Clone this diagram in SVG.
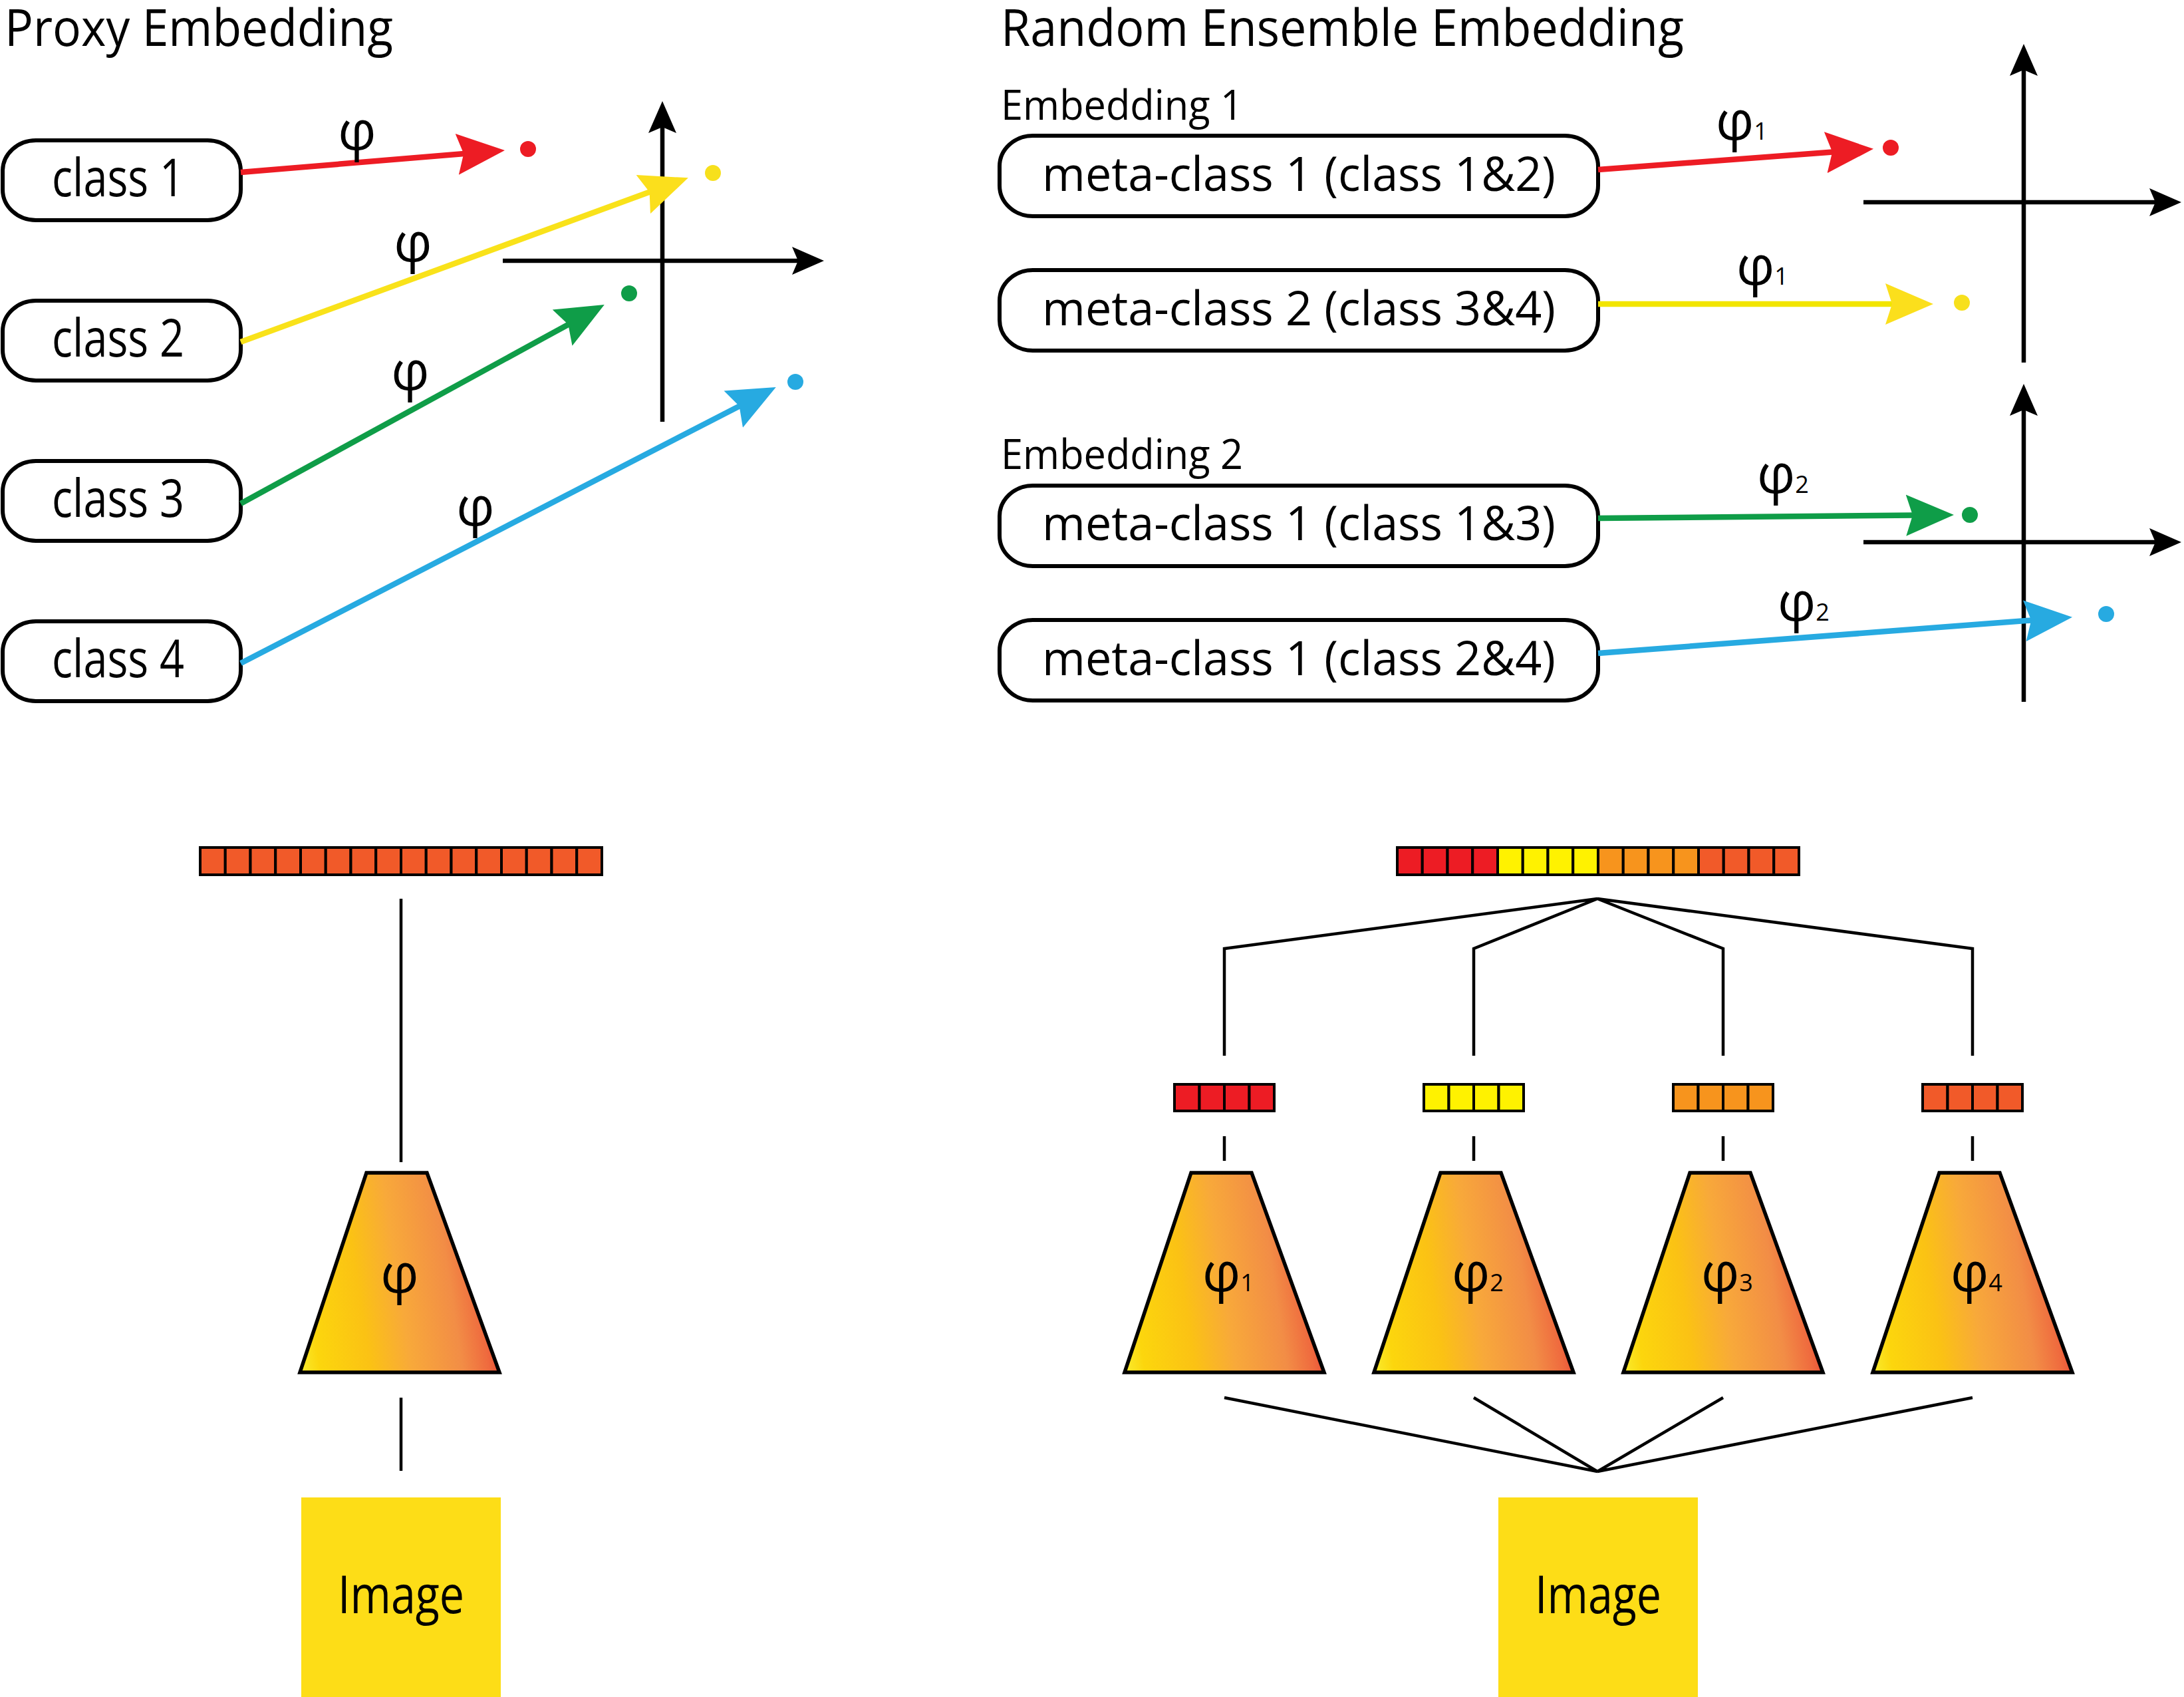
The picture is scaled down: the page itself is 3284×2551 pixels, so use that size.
<svg xmlns="http://www.w3.org/2000/svg" width="3284" height="2551" viewBox="0 0 3284 2551">
<style>
text{font-family:"Open Sans","Noto Sans","Liberation Sans",sans-serif;fill:#000}
.title{font-size:76px}
.sub{font-size:63px}
.cls{font-size:78px}
.meta{font-size:72px}
.phi{font-size:80px}
.idx{font-size:36px}
.box{fill:#fff;stroke:#000;stroke-width:6}
.axis{stroke:#000;stroke-width:6.5;fill:none}
.arr{stroke-width:8.5;fill:none}
.tree{stroke:#000;stroke-width:4.5;fill:none}
.cell{stroke:#000;stroke-width:4}
.trap{fill:url(#tg);stroke:#000;stroke-width:5.5;stroke-linejoin:miter}
.img{fill:#FDDD17}
</style>
<defs>
<linearGradient id="tg" x1="0" y1="1" x2="1" y2="0.85">
<stop offset="0" stop-color="#F9EC2E"/>
<stop offset="0.1" stop-color="#FCD60D"/>
<stop offset="0.35" stop-color="#FBC214"/>
<stop offset="0.55" stop-color="#F8A93A"/>
<stop offset="0.8" stop-color="#F28D46"/>
<stop offset="0.93" stop-color="#EF6A3E"/>
<stop offset="1" stop-color="#EC4B36"/>
</linearGradient>
<marker id="mr" markerUnits="userSpaceOnUse" orient="auto" markerWidth="80" markerHeight="70" refX="14" refY="35" viewBox="0 0 80 70"><path d="M72,35 L0,4 L10,35 L0,66 Z" fill="#ED1C24"/></marker>
<marker id="my" markerUnits="userSpaceOnUse" orient="auto" markerWidth="80" markerHeight="70" refX="14" refY="35" viewBox="0 0 80 70"><path d="M72,35 L0,4 L10,35 L0,66 Z" fill="#FBDF1C"/></marker>
<marker id="mg" markerUnits="userSpaceOnUse" orient="auto" markerWidth="80" markerHeight="70" refX="14" refY="35" viewBox="0 0 80 70"><path d="M72,35 L0,4 L10,35 L0,66 Z" fill="#0F9D48"/></marker>
<marker id="mb" markerUnits="userSpaceOnUse" orient="auto" markerWidth="80" markerHeight="70" refX="14" refY="35" viewBox="0 0 80 70"><path d="M72,35 L0,4 L10,35 L0,66 Z" fill="#27AAE1"/></marker>
<marker id="mk" markerUnits="userSpaceOnUse" orient="auto" markerWidth="60" markerHeight="50" refX="12" refY="25" viewBox="0 0 60 50"><path d="M48,25 L0,4 L9,25 L0,46 Z" fill="#000"/></marker>
</defs>
<rect width="3284" height="2551" fill="#fff"/>

<g id="titles">
<text class="title" x="7" y="69" textLength="584" lengthAdjust="spacingAndGlyphs">Proxy Embedding</text>
<text class="title" x="1505" y="69" textLength="1027" lengthAdjust="spacingAndGlyphs">Random Ensemble Embedding</text>
<text class="sub" x="1505" y="180" textLength="364" lengthAdjust="spacingAndGlyphs">Embedding 1</text>
<text class="sub" x="1505" y="705" textLength="364" lengthAdjust="spacingAndGlyphs">Embedding 2</text>
</g>

<g id="axes">
<line class="axis" x1="996" y1="634" x2="996" y2="188" marker-end="url(#mk)"/>
<line class="axis" x1="756" y1="392" x2="1203" y2="392" marker-end="url(#mk)"/>
<line class="axis" x1="3043" y1="545" x2="3043" y2="102" marker-end="url(#mk)"/>
<line class="axis" x1="2802" y1="304" x2="3244" y2="304" marker-end="url(#mk)"/>
<line class="axis" x1="3043" y1="1055" x2="3043" y2="613" marker-end="url(#mk)"/>
<line class="axis" x1="2802" y1="815" x2="3244" y2="815" marker-end="url(#mk)"/>
</g>

<g id="class1"><rect class="box" x="4" y="211" width="358" height="120" rx="50" ry="46"/><text class="cls" x="78" y="295" textLength="199" lengthAdjust="spacingAndGlyphs">class 1</text></g>
<g id="class2"><rect class="box" x="4" y="452" width="358" height="120" rx="50" ry="46"/><text class="cls" x="78" y="536" textLength="199" lengthAdjust="spacingAndGlyphs">class 2</text></g>
<g id="class3"><rect class="box" x="4" y="693" width="358" height="120" rx="50" ry="46"/><text class="cls" x="78" y="777" textLength="199" lengthAdjust="spacingAndGlyphs">class 3</text></g>
<g id="class4"><rect class="box" x="4" y="934" width="358" height="120" rx="50" ry="46"/><text class="cls" x="78" y="1018" textLength="199" lengthAdjust="spacingAndGlyphs">class 4</text></g>

<g id="meta1"><rect class="box" x="1503" y="204" width="900" height="121" rx="50" ry="46"/><text class="meta" x="1567" y="287" textLength="772" lengthAdjust="spacingAndGlyphs">meta-class 1 (class 1&amp;2)</text></g>
<g id="meta2"><rect class="box" x="1503" y="406" width="900" height="121" rx="50" ry="46"/><text class="meta" x="1567" y="489" textLength="772" lengthAdjust="spacingAndGlyphs">meta-class 2 (class 3&amp;4)</text></g>
<g id="meta3"><rect class="box" x="1503" y="730" width="900" height="121" rx="50" ry="46"/><text class="meta" x="1567" y="812" textLength="772" lengthAdjust="spacingAndGlyphs">meta-class 1 (class 1&amp;3)</text></g>
<g id="meta4"><rect class="box" x="1503" y="932" width="900" height="121" rx="50" ry="46"/><text class="meta" x="1567" y="1015" textLength="772" lengthAdjust="spacingAndGlyphs">meta-class 1 (class 2&amp;4)</text></g>

<g id="points">
<circle cx="794" cy="224" r="12" fill="#ED1C24"/>
<circle cx="1072" cy="260" r="12" fill="#F7E01C"/>
<circle cx="946" cy="441" r="12" fill="#0F9D48"/>
<circle cx="1196" cy="574" r="12" fill="#27AAE1"/>
<circle cx="2843" cy="222" r="12" fill="#ED1C24"/>
<circle cx="2950" cy="455" r="12" fill="#F7E01C"/>
<circle cx="2962" cy="774" r="12" fill="#0F9D48"/>
<circle cx="3167" cy="923" r="12" fill="#27AAE1"/>
</g>

<g id="connectors">
<line class="arr" stroke="#ED1C24" x1="362" y1="259" x2="701.2" y2="230.7" marker-end="url(#mr)"/>
<line class="arr" stroke="#F9E21A" x1="362" y1="514" x2="980.4" y2="287.3" marker-end="url(#my)"/>
<line class="arr" stroke="#0F9D48" x1="362" y1="757" x2="857.9" y2="485.9" marker-end="url(#mg)"/>
<line class="arr" stroke="#27AAE1" x1="362" y1="997" x2="1115.2" y2="608.7" marker-end="url(#mb)"/>
<line class="arr" stroke="#ED1C24" x1="2403" y1="255" x2="2759.2" y2="228.2" marker-end="url(#mr)"/>
<line class="arr" stroke="#F2E500" x1="2403" y1="457" x2="2849" y2="457" marker-end="url(#my)"/>
<line class="arr" stroke="#0F9D48" x1="2403" y1="779" x2="2880" y2="774.5" marker-end="url(#mg)"/>
<line class="arr" stroke="#27AAE1" x1="2403" y1="982" x2="3058.2" y2="932.2" marker-end="url(#mb)"/>
<line class="tree" x1="603" y1="1351" x2="603" y2="1747"/>
<line class="tree" x1="603" y1="2101" x2="603" y2="2211"/>
<polyline class="tree" points="1841,1587 1841,1426 2402,1351 2216,1426 2216,1587"/>
<polyline class="tree" points="2591,1587 2591,1426 2402,1351 2966,1426 2966,1587"/>
<line class="tree" x1="1841" y1="1708" x2="1841" y2="1745"/>
<line class="tree" x1="2216" y1="1708" x2="2216" y2="1745"/>
<line class="tree" x1="2591" y1="1708" x2="2591" y2="1745"/>
<line class="tree" x1="2966" y1="1708" x2="2966" y2="1745"/>
<polyline class="tree" points="1841,2101 2402,2212 2216,2101"/>
<polyline class="tree" points="2591,2101 2402,2212 2966,2101"/>
</g>

<g id="phi-labels">
<text class="phi" x="537" y="225" text-anchor="middle">φ</text>
<text class="phi" x="621" y="393" text-anchor="middle">φ</text>
<text class="phi" x="617" y="586" text-anchor="middle">φ</text>
<text class="phi" x="715" y="790" text-anchor="middle">φ</text>
<text class="phi" x="2580" y="210">φ<tspan class="idx">1</tspan></text>
<text class="phi" x="2611" y="428">φ<tspan class="idx">1</tspan></text>
<text class="phi" x="2642" y="741">φ<tspan class="idx">2</tspan></text>
<text class="phi" x="2673" y="933">φ<tspan class="idx">2</tspan></text>
</g>

<g id="vector-proxy">
<rect class="cell" fill="#F15A29" x="301" y="1274" width="37.75" height="41"/>
<rect class="cell" fill="#F15A29" x="338.75" y="1274" width="37.75" height="41"/>
<rect class="cell" fill="#F15A29" x="376.5" y="1274" width="37.75" height="41"/>
<rect class="cell" fill="#F15A29" x="414.25" y="1274" width="37.75" height="41"/>
<rect class="cell" fill="#F15A29" x="452" y="1274" width="37.75" height="41"/>
<rect class="cell" fill="#F15A29" x="489.75" y="1274" width="37.75" height="41"/>
<rect class="cell" fill="#F15A29" x="527.5" y="1274" width="37.75" height="41"/>
<rect class="cell" fill="#F15A29" x="565.25" y="1274" width="37.75" height="41"/>
<rect class="cell" fill="#F15A29" x="603" y="1274" width="37.75" height="41"/>
<rect class="cell" fill="#F15A29" x="640.75" y="1274" width="37.75" height="41"/>
<rect class="cell" fill="#F15A29" x="678.5" y="1274" width="37.75" height="41"/>
<rect class="cell" fill="#F15A29" x="716.25" y="1274" width="37.75" height="41"/>
<rect class="cell" fill="#F15A29" x="754" y="1274" width="37.75" height="41"/>
<rect class="cell" fill="#F15A29" x="791.75" y="1274" width="37.75" height="41"/>
<rect class="cell" fill="#F15A29" x="829.5" y="1274" width="37.75" height="41"/>
<rect class="cell" fill="#F15A29" x="867.25" y="1274" width="37.75" height="41"/>
</g>

<g id="vector-ensemble">
<rect class="cell" fill="#ED1C24" x="2101" y="1274" width="37.75" height="41"/>
<rect class="cell" fill="#ED1C24" x="2138.75" y="1274" width="37.75" height="41"/>
<rect class="cell" fill="#ED1C24" x="2176.5" y="1274" width="37.75" height="41"/>
<rect class="cell" fill="#ED1C24" x="2214.25" y="1274" width="37.75" height="41"/>
<rect class="cell" fill="#FFF200" x="2252" y="1274" width="37.75" height="41"/>
<rect class="cell" fill="#FFF200" x="2289.75" y="1274" width="37.75" height="41"/>
<rect class="cell" fill="#FFF200" x="2327.5" y="1274" width="37.75" height="41"/>
<rect class="cell" fill="#FFF200" x="2365.25" y="1274" width="37.75" height="41"/>
<rect class="cell" fill="#F7941D" x="2403" y="1274" width="37.75" height="41"/>
<rect class="cell" fill="#F7941D" x="2440.75" y="1274" width="37.75" height="41"/>
<rect class="cell" fill="#F7941D" x="2478.5" y="1274" width="37.75" height="41"/>
<rect class="cell" fill="#F7941D" x="2516.25" y="1274" width="37.75" height="41"/>
<rect class="cell" fill="#F15A29" x="2554" y="1274" width="37.75" height="41"/>
<rect class="cell" fill="#F15A29" x="2591.75" y="1274" width="37.75" height="41"/>
<rect class="cell" fill="#F15A29" x="2629.5" y="1274" width="37.75" height="41"/>
<rect class="cell" fill="#F15A29" x="2667.25" y="1274" width="37.75" height="41"/>
</g>

<g id="vector-1">
<rect class="cell" fill="#ED1C24" x="1766" y="1630" width="37.5" height="40"/>
<rect class="cell" fill="#ED1C24" x="1803.5" y="1630" width="37.5" height="40"/>
<rect class="cell" fill="#ED1C24" x="1841" y="1630" width="37.5" height="40"/>
<rect class="cell" fill="#ED1C24" x="1878.5" y="1630" width="37.5" height="40"/>
</g>
<g id="vector-2">
<rect class="cell" fill="#FFF200" x="2141" y="1630" width="37.5" height="40"/>
<rect class="cell" fill="#FFF200" x="2178.5" y="1630" width="37.5" height="40"/>
<rect class="cell" fill="#FFF200" x="2216" y="1630" width="37.5" height="40"/>
<rect class="cell" fill="#FFF200" x="2253.5" y="1630" width="37.5" height="40"/>
</g>
<g id="vector-3">
<rect class="cell" fill="#F7941D" x="2516" y="1630" width="37.5" height="40"/>
<rect class="cell" fill="#F7941D" x="2553.5" y="1630" width="37.5" height="40"/>
<rect class="cell" fill="#F7941D" x="2591" y="1630" width="37.5" height="40"/>
<rect class="cell" fill="#F7941D" x="2628.5" y="1630" width="37.5" height="40"/>
</g>
<g id="vector-4">
<rect class="cell" fill="#F15A29" x="2891" y="1630" width="37.5" height="40"/>
<rect class="cell" fill="#F15A29" x="2928.5" y="1630" width="37.5" height="40"/>
<rect class="cell" fill="#F15A29" x="2966" y="1630" width="37.5" height="40"/>
<rect class="cell" fill="#F15A29" x="3003.5" y="1630" width="37.5" height="40"/>
</g>

<g id="net-proxy"><polygon class="trap" points="551,1763 642,1763 751,2063 451,2063"/><text class="phi" x="601" y="1943" text-anchor="middle">φ</text></g>
<g id="net-1"><polygon class="trap" points="1791,1763 1882,1763 1991,2063 1691,2063"/><text class="phi" x="1808" y="1941">φ<tspan class="idx">1</tspan></text></g>
<g id="net-2"><polygon class="trap" points="2166,1763 2257,1763 2366,2063 2066,2063"/><text class="phi" x="2183" y="1941">φ<tspan class="idx">2</tspan></text></g>
<g id="net-3"><polygon class="trap" points="2541,1763 2632,1763 2741,2063 2441,2063"/><text class="phi" x="2558" y="1941">φ<tspan class="idx">3</tspan></text></g>
<g id="net-4"><polygon class="trap" points="2916,1763 3007,1763 3116,2063 2816,2063"/><text class="phi" x="2933" y="1941">φ<tspan class="idx">4</tspan></text></g>

<g id="image-proxy"><rect class="img" x="453" y="2251" width="300" height="300"/><text class="cls" x="508" y="2425" textLength="190" lengthAdjust="spacingAndGlyphs">Image</text></g>
<g id="image-ensemble"><rect class="img" x="2253" y="2251" width="300" height="300"/><text class="cls" x="2308" y="2425" textLength="190" lengthAdjust="spacingAndGlyphs">Image</text></g>
</svg>
